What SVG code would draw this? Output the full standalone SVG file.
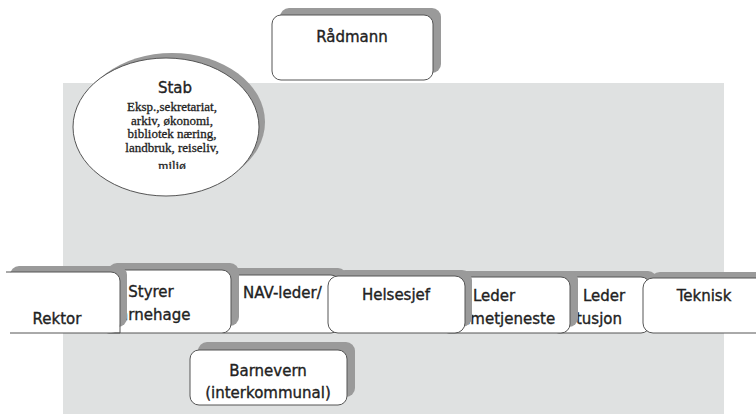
<svg xmlns="http://www.w3.org/2000/svg" width="756" height="414" viewBox="0 0 756 414">
<style>
.bg{fill:#dfe1e1}
.sh{fill:#9a9a9a}
.box{fill:#fff;stroke:#555;stroke-width:1}
.t{font-family:"DejaVu Sans",sans-serif;font-size:15px;fill:#222;stroke:#222;stroke-width:0.35}
.m{text-anchor:middle}
.s{font-family:"Liberation Serif",serif;font-size:13px;fill:#222;stroke:#222;stroke-width:0.3;text-anchor:middle}
</style>
<defs>
<clipPath id="stabclip"><rect x="90" y="60" width="170" height="109"/></clipPath>
</defs>
<rect class="bg" x="63" y="83" width="661" height="331"/>
<g id="connectors"/>
<g id="radmann">
<rect class="sh" x="280" y="8" width="161" height="65" rx="9"/>
<rect class="box" x="272" y="15" width="161" height="65" rx="9"/>
<text class="t m" x="352" y="42">Rådmann</text>
</g>
<g id="stab">
<ellipse class="sh" cx="172" cy="122" rx="93" ry="69"/>
<ellipse class="box" cx="166" cy="127" rx="93" ry="69"/>
<text class="t m" x="175" y="93">Stab</text>
<text class="s" x="172" y="111">Eksp.,sekretariat,</text>
<text class="s" x="172" y="124.5">arkiv, økonomi,</text>
<text class="s" x="172" y="138">bibliotek næring,</text>
<text class="s" x="172" y="151.5">landbruk, reiseliv,</text>
<text class="s" x="172" y="170" clip-path="url(#stabclip)">miljø</text>
</g>
<g id="nav">
<rect class="sh" x="222" y="268" width="125" height="58" rx="9"/>
<rect class="box" x="215" y="275" width="125" height="58" rx="9"/>
<text class="t" x="243" y="298">NAV-leder/</text>
</g>
<g id="leder-institusjon">
<rect class="sh" x="557" y="271" width="100" height="56" rx="9"/>
<rect class="box" x="550" y="277" width="100" height="56" rx="9"/>
<text class="t" x="583" y="301">Leder</text>
<text class="t" x="622" y="324" text-anchor="end">tusjon</text>
</g>
<g id="styrer">
<rect class="sh" x="108" y="263" width="131" height="63" rx="9"/>
<rect class="box" x="100" y="270" width="131" height="63" rx="9"/>
<text class="t m" x="151" y="297">Styrer</text>
<text class="t m" x="150" y="320">barnehage</text>
</g>
<g id="leder-hjemmetjeneste">
<rect class="sh" x="448" y="271" width="130" height="56" rx="9"/>
<rect class="box" x="440" y="277" width="130" height="56" rx="9"/>
<text class="t m" x="494" y="301">Leder</text>
<text class="t m" x="494" y="324">hjemmetjeneste</text>
</g>
<g id="rektor">
<rect class="sh" x="10" y="266" width="117" height="61" rx="9"/>
<rect x="3" y="272" width="117" height="61" rx="9" fill="#fff"/>
<path d="M6,272 H111 A9,9 0 0 1 120,281 V333 H10" fill="none" stroke="#555" stroke-width="1"/>
<text class="t m" x="57" y="324">Rektor</text>
</g>
<g id="helsesjef">
<rect class="sh" x="335" y="270" width="137" height="57" rx="10"/>
<rect class="box" x="328" y="276" width="137" height="57" rx="10"/>
<text class="t m" x="396" y="300">Helsesjef</text>
</g>
<g id="teknisk">
<rect class="sh" x="650" y="272" width="140" height="55" rx="10"/>
<rect class="box" x="643" y="278" width="140" height="55" rx="10"/>
<text class="t m" x="704" y="301">Teknisk</text>
</g>
<g id="barnevern">
<rect class="sh" x="198" y="342" width="157" height="55" rx="9"/>
<rect class="box" x="190" y="350" width="157" height="55" rx="9"/>
<text class="t m" x="268" y="376">Barnevern</text>
<text class="t m" x="268" y="398">(interkommunal)</text>
</g>
</svg>
